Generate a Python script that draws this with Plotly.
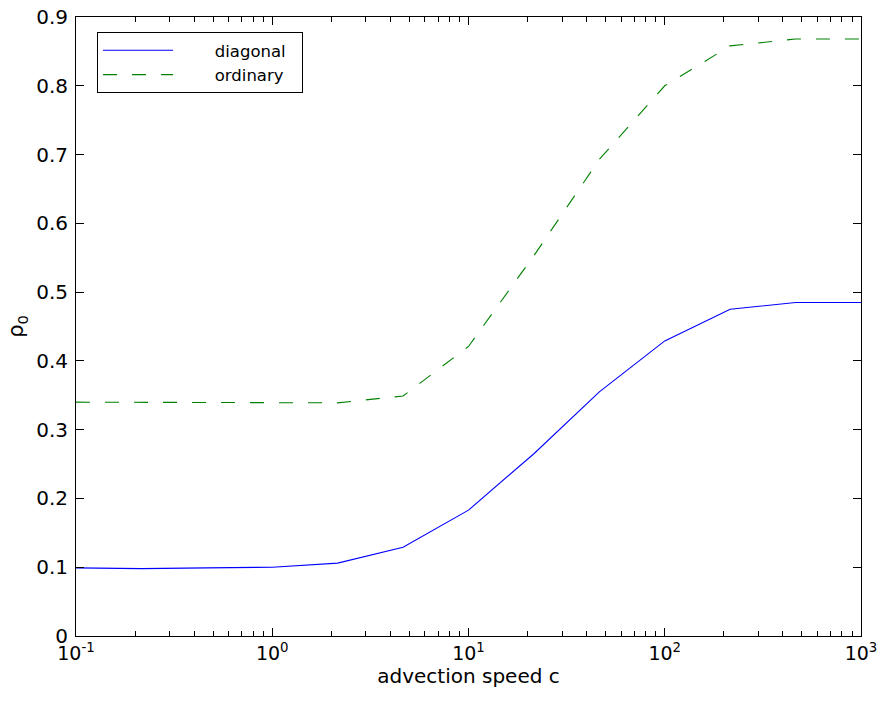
import plotly.graph_objects as go

c_vals = [0.1, 0.2154, 0.4642, 1.0, 2.154, 4.642, 10.0, 21.54, 46.42, 100.0, 215.4, 464.2, 1000.0]
diagonal = [0.099, 0.098, 0.099, 0.100, 0.106, 0.129, 0.183, 0.265, 0.355, 0.429, 0.475, 0.485, 0.485]
ordinary = [0.340, 0.340, 0.340, 0.339, 0.339, 0.349, 0.421, 0.553, 0.693, 0.800, 0.858, 0.868, 0.868]

x_tick_vals = [0.1, 1, 10, 100, 1000]
x_tick_text = ["10<sup>-1</sup>", "10<sup>0</sup>", "10<sup>1</sup>", "10<sup>2</sup>", "10<sup>3</sup>"]
y_tick_vals = [0, 0.1, 0.2, 0.3, 0.4, 0.5, 0.6, 0.7, 0.8, 0.9]
y_tick_text = ["0", "0.1", "0.2", "0.3", "0.4", "0.5", "0.6", "0.7", "0.8", "0.9"]

minor_x = [m * 10 ** e for e in range(-1, 3) for m in range(2, 10)]

FONT = "DejaVu Sans, Liberation Sans, Arial, sans-serif"
pad = "\u00a0" * 7
tail = "\u00a0" * 2

fig = go.Figure()
fig.add_trace(go.Scatter(x=c_vals, y=diagonal, mode="lines", name=pad + "diagonal" + tail,
                         line=dict(color="rgb(0,0,255)", width=1.1)))
fig.add_trace(go.Scatter(x=c_vals, y=ordinary, mode="lines", name=pad + "ordinary" + tail,
                         line=dict(color="rgb(0,128,0)", width=1.1, dash="14px,15px")))

axis_common = dict(showgrid=False, zeroline=False, showline=True, linecolor="black", linewidth=1,
                   ticks="inside", ticklen=8, tickcolor="black", mirror="allticks", automargin=False,
                   ticklabeloverflow="allow")

fig.update_xaxes(type="log", range=[-1, 3], tickmode="array", tickvals=x_tick_vals, ticktext=x_tick_text,
                 tickfont=dict(family=FONT, size=19, color="black"),
                 minor=dict(ticks="inside", ticklen=5, tickcolor="black", tickmode="array", tickvals=minor_x),
                 title=dict(text="advection speed c", font=dict(family=FONT, size=20, color="black"), standoff=6),
                 **axis_common)
fig.update_yaxes(range=[0, 0.9], tickmode="array", tickvals=y_tick_vals, ticktext=y_tick_text,
                 tickfont=dict(family=FONT, size=20, color="black"), ticklabelstandoff=3,
                 title=dict(text="ρ<sub>0</sub>", font=dict(family=FONT, size=21, color="black"), standoff=6),
                 **axis_common)

fig.update_layout(
    width=882, height=711,
    margin=dict(l=76, r=21, t=17, b=75),
    plot_bgcolor="white", paper_bgcolor="white",
    showlegend=True,
    legend=dict(x=0.0268, y=0.9758, xanchor="left", yanchor="top",
                bordercolor="black", borderwidth=1, bgcolor="white",
                font=dict(family=FONT, size=16.5, color="black"),
                tracegroupgap=0, itemwidth=70),
)

fig.write_html("out.html", config={"displayModeBar": False},
               post_script="document.body.style.margin='0';document.body.style.overflow='hidden';")
